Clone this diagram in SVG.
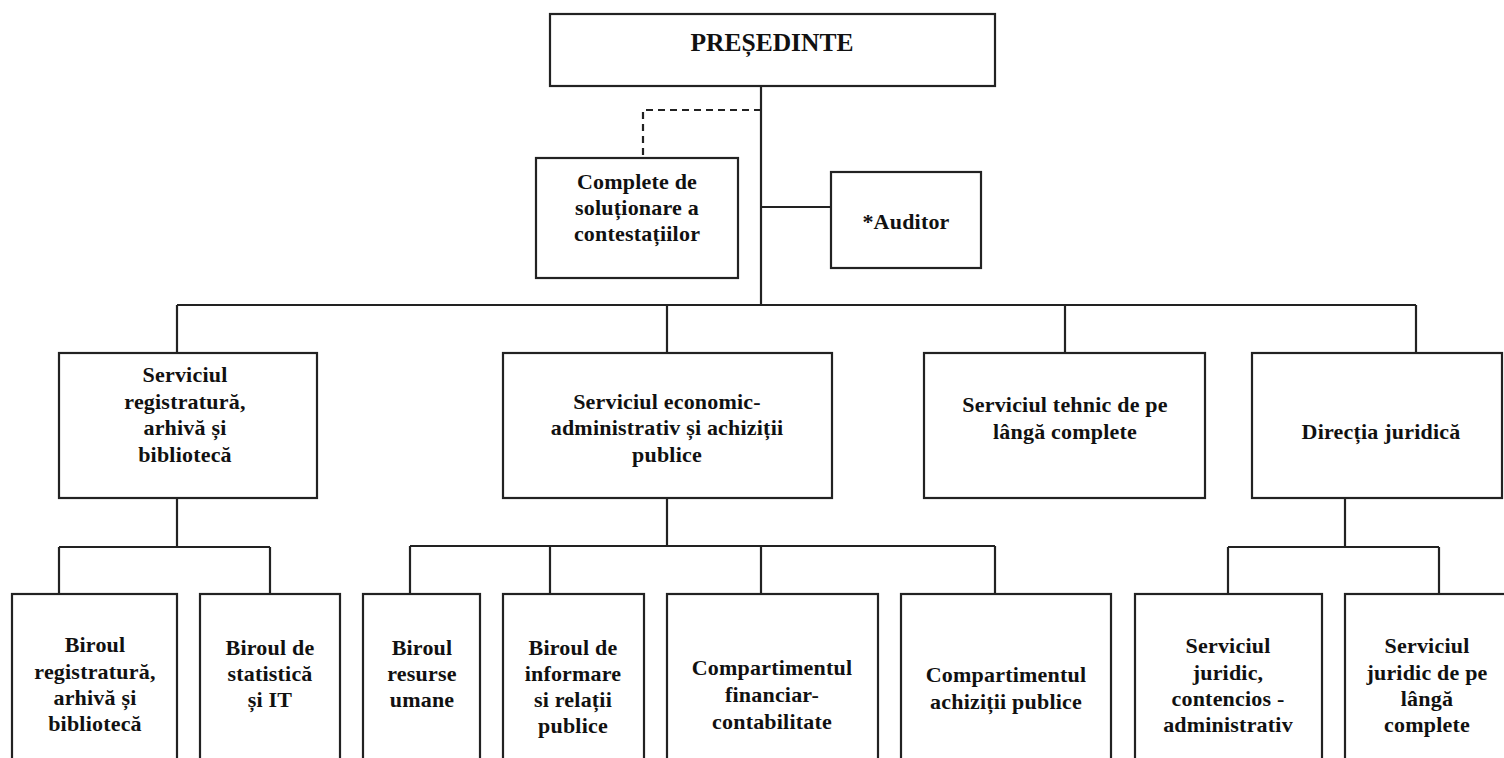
<svg xmlns="http://www.w3.org/2000/svg" width="1504" height="758" viewBox="0 0 1504 758">
<style>
  .box { fill: #ffffff; stroke: #222222; stroke-width: 2.2; }
  .lbl { font-family: "Liberation Serif", "Times New Roman", serif; font-weight: bold; font-size: 22px; letter-spacing: 0.2px; fill: #111111; text-anchor: middle; }
  .big { font-size: 25.5px; letter-spacing: 0; }
  .conn { fill: none; stroke: #222222; stroke-width: 2.2; }
  .dash { stroke-dasharray: 7 5; }
</style>
<rect x="0" y="0" width="1504" height="758" fill="#ffffff"/>
<g id="connectors">
  <path class="conn" d="M761,86 V305"/>
  <path class="conn dash" d="M761,110 H643 V158"/>
  <path class="conn" d="M761,207 H831"/>
  <path class="conn" d="M177,305 H1416"/>
  <path class="conn" d="M177,305 V353 M667,305 V353 M1065,305 V353 M1416,305 V353"/>
  <path class="conn" d="M177,498 V547 M59,547 H270 M59,547 V594 M270,547 V594"/>
  <path class="conn" d="M667,498 V546 M410,546 H995 M410,546 V594 M550,546 V594 M761,546 V594 M995,546 V594"/>
  <path class="conn" d="M1345,498 V547 M1228,547 H1439 M1228,547 V594 M1439,547 V594"/>
</g>
<g id="presedinte">
  <rect class="box" x="550" y="14" width="445" height="72"/>
  <text class="lbl big" x="772" y="51">PREȘEDINTE</text>
</g>
<g id="complete">
  <rect class="box" x="536" y="158" width="202" height="120"/>
  <text class="lbl" x="637" y="189">Complete de</text>
  <text class="lbl" x="637" y="215">soluționare a</text>
  <text class="lbl" x="637" y="241">contestațiilor</text>
</g>
<g id="auditor">
  <rect class="box" x="831" y="172" width="150" height="96"/>
  <text class="lbl" x="906" y="229">*Auditor</text>
</g>
<g id="serv-registratura">
  <rect class="box" x="59" y="353" width="258" height="145"/>
  <text class="lbl" x="185" y="382">Serviciul</text>
  <text class="lbl" x="185" y="409">registratură,</text>
  <text class="lbl" x="185" y="435">arhivă și</text>
  <text class="lbl" x="185" y="462">bibliotecă</text>
</g>
<g id="serv-economic">
  <rect class="box" x="503" y="353" width="329" height="145"/>
  <text class="lbl" x="667" y="409">Serviciul economic-</text>
  <text class="lbl" x="667" y="435">administrativ și achiziții</text>
  <text class="lbl" x="667" y="462">publice</text>
</g>
<g id="serv-tehnic">
  <rect class="box" x="924" y="353" width="281" height="145"/>
  <text class="lbl" x="1065" y="412">Serviciul tehnic de pe</text>
  <text class="lbl" x="1065" y="439">lângă complete</text>
</g>
<g id="directia-juridica">
  <rect class="box" x="1252" y="353" width="250" height="145"/>
  <text class="lbl" x="1381" y="439">Direcția juridică</text>
</g>
<g id="birou-registratura">
  <rect class="box" x="12" y="594" width="165" height="180"/>
  <text class="lbl" x="95" y="652">Biroul</text>
  <text class="lbl" x="95" y="679">registratură,</text>
  <text class="lbl" x="95" y="705">arhivă și</text>
  <text class="lbl" x="95" y="731">bibliotecă</text>
</g>
<g id="birou-statistica">
  <rect class="box" x="200" y="594" width="140" height="180"/>
  <text class="lbl" x="270" y="655">Biroul de</text>
  <text class="lbl" x="270" y="681">statistică</text>
  <text class="lbl" x="270" y="707">și IT</text>
</g>
<g id="birou-resurse">
  <rect class="box" x="363" y="594" width="117" height="180"/>
  <text class="lbl" x="422" y="655">Biroul</text>
  <text class="lbl" x="422" y="681">resurse</text>
  <text class="lbl" x="422" y="707">umane</text>
</g>
<g id="birou-informare">
  <rect class="box" x="503" y="594" width="141" height="180"/>
  <text class="lbl" x="573" y="655">Biroul de</text>
  <text class="lbl" x="573" y="681">informare</text>
  <text class="lbl" x="573" y="707">si relații</text>
  <text class="lbl" x="573" y="733">publice</text>
</g>
<g id="comp-financiar">
  <rect class="box" x="667" y="594" width="211" height="180"/>
  <text class="lbl" x="772" y="675">Compartimentul</text>
  <text class="lbl" x="772" y="702">financiar-</text>
  <text class="lbl" x="772" y="729">contabilitate</text>
</g>
<g id="comp-achizitii">
  <rect class="box" x="901" y="594" width="210" height="180"/>
  <text class="lbl" x="1006" y="682">Compartimentul</text>
  <text class="lbl" x="1006" y="709">achiziții publice</text>
</g>
<g id="serv-juridic-contencios">
  <rect class="box" x="1135" y="594" width="187" height="180"/>
  <text class="lbl" x="1228" y="653">Serviciul</text>
  <text class="lbl" x="1228" y="680">juridic,</text>
  <text class="lbl" x="1228" y="706">contencios -</text>
  <text class="lbl" x="1228" y="732">administrativ</text>
</g>
<g id="serv-juridic-complete">
  <rect class="box" x="1345" y="594" width="170" height="180"/>
  <text class="lbl" x="1427" y="653">Serviciul</text>
  <text class="lbl" x="1427" y="680">juridic de pe</text>
  <text class="lbl" x="1427" y="706">lângă</text>
  <text class="lbl" x="1427" y="732">complete</text>
</g>
</svg>
